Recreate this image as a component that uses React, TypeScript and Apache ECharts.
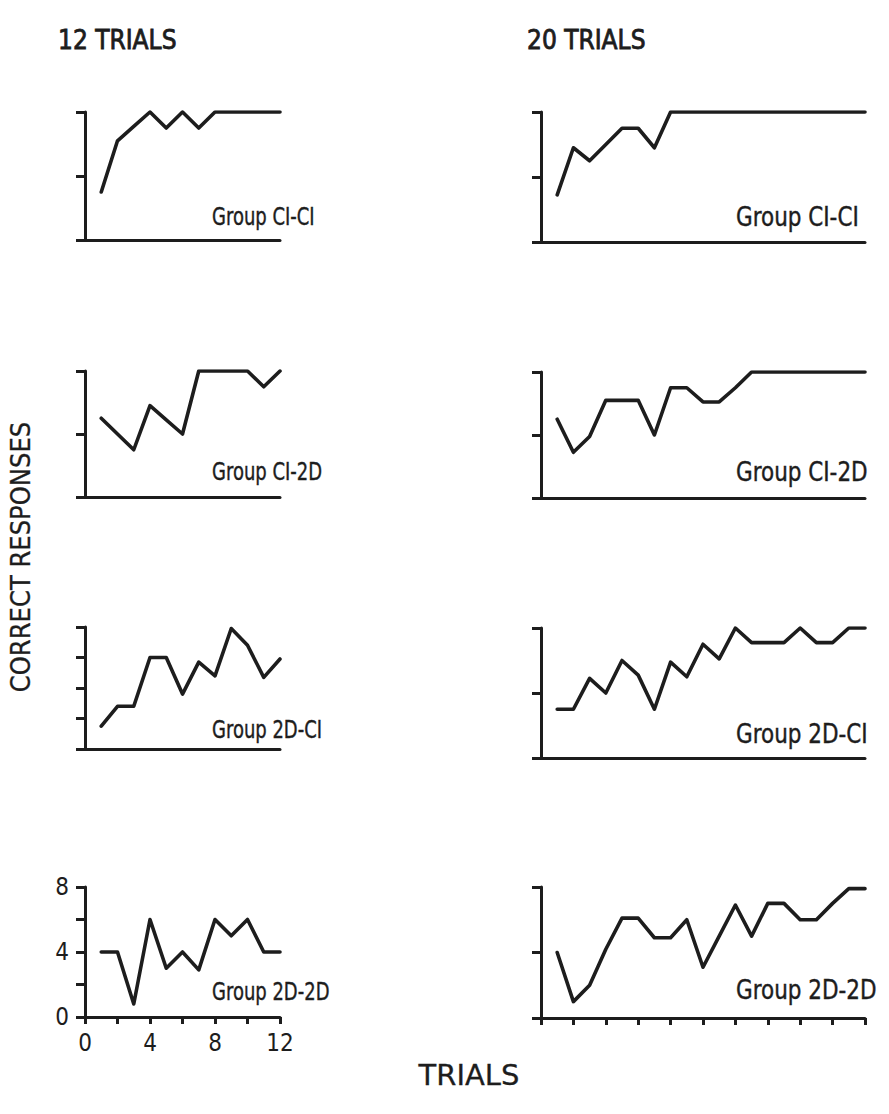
import React, { useEffect, useRef } from "react";
import * as echarts from "echarts";

// ---- data (correct responses per trial) ----
const trials12 = [1, 2, 3, 4, 5, 6, 7, 8, 9, 10, 11, 12];
const trials20 = [1, 2, 3, 4, 5, 6, 7, 8, 9, 10, 11, 12, 13, 14, 15, 16, 17, 18, 19, 20];

const ciCi12 = [3, 6.2, 7.1, 8, 7, 8, 7, 8, 8, 8, 8, 8];
const ciCi20 = [2.9, 5.8, 5, 6, 7, 7, 5.8, 8, 8, 8, 8, 8, 8, 8, 8, 8, 8, 8, 8, 8];
const ci2d12 = [5, 4, 3, 5.8, 4.9, 4, 8, 8, 8, 8, 7, 8];
const ci2d20 = [5, 2.9, 3.9, 6.2, 6.2, 6.2, 4, 7, 7, 6.1, 6.1, 7, 8, 8, 8, 8, 8, 8, 8, 8];
const d2ci12 = [1.5, 2.8, 2.8, 6, 6, 3.6, 5.7, 4.8, 7.9, 6.8, 4.7, 5.9];
const d2ci20 = [3, 3, 4.9, 4, 6, 5.1, 3, 5.9, 5, 7, 6.1, 8, 7.1, 7.1, 7.1, 8, 7.1, 7.1, 8, 8];
const d2d12 = [4, 4, 0.8, 6, 3, 4, 2.9, 6, 5, 6, 4, 4];
const d2d20 = [4, 1, 2, 4.2, 6.1, 6.1, 4.9, 4.9, 6, 3.1, 5, 6.9, 5, 7, 7, 6, 6, 7, 7.9, 7.9];

const groupLabels = ["Group CI-CI", "Group CI-2D", "Group 2D-CI", "Group 2D-2D"];
const columnTitles = ["12 TRIALS", "20 TRIALS"];
const yAxisTitle = "CORRECT RESPONSES";
const xAxisTitle = "TRIALS";
const yMax = 8;
const xMax = [12, 20];

// panels: [row][col]
const panelData = [
  [ciCi12, ciCi20],
  [ci2d12, ci2d20],
  [d2ci12, d2ci20],
  [d2d12, d2d20],
];
const yIntervals = [
  [4, 4],
  [4, 4],
  [2, 4],
  [2, 4],
];

// ---- layout (pixels) ----
const colLeft = [85, 541];
const colWidth = [195, 324];
const rowBoxes = [
  [[112, 128], [112, 130]],
  [[371, 126], [372, 126]],
  [[627, 122], [628, 130]],
  [[887, 130], [887, 131]],
];
const labelX = [212, 736];
const labelY = [
  [216, 217],
  [471, 472],
  [729, 734],
  [991, 990],
];

const INK = "#1d1d1d";
const COND = "'DejaVu Sans Condensed', 'Liberation Sans Narrow', sans-serif";

export default function App() {
  const ref = useRef<HTMLDivElement>(null);

  useEffect(() => {
    if (!ref.current) return;
    const chart = echarts.init(ref.current, undefined, { renderer: "svg" });

    const grids: any[] = [];
    const xAxes: any[] = [];
    const yAxes: any[] = [];
    const series: any[] = [];
    const graphics: any[] = [];

    let idx = 0;
    for (let r = 0; r < 4; r++) {
      for (let c = 0; c < 2; c++) {
        const [top, height] = rowBoxes[r][c];
        grids.push({ left: colLeft[c], top, width: colWidth[c], height, containLabel: false });
        const bottomRow = r === 3;
        const labelled = bottomRow && c === 0;
        xAxes.push({
          type: "value",
          gridIndex: idx,
          min: 0,
          max: xMax[c],
          interval: 2,
          axisLine: { show: true, onZero: false, lineStyle: { color: INK, width: 3 } },
          axisTick: { show: bottomRow, length: 7, lineStyle: { color: INK, width: 3 } },
          axisLabel: {
            show: labelled,
            margin: 14,
            color: INK,
            fontFamily: COND,
            fontSize: 24,
            formatter: (v: number) => (v % 4 === 0 ? String(v) : ""),
          },
          splitLine: { show: false },
        });
        yAxes.push({
          type: "value",
          gridIndex: idx,
          min: 0,
          max: yMax,
          interval: yIntervals[r][c],
          axisLine: { show: true, onZero: false, lineStyle: { color: INK, width: 3 } },
          axisTick: { show: true, length: 9, lineStyle: { color: INK, width: 3 } },
          axisLabel: {
            show: labelled,
            margin: 16,
            color: INK,
            fontFamily: COND,
            fontSize: 24,
            formatter: (v: number) => (v % 4 === 0 ? String(v) : ""),
          },
          splitLine: { show: false },
        });
        const trials = c === 0 ? trials12 : trials20;
        const vals = panelData[r][c];
        series.push({
          type: "line",
          xAxisIndex: idx,
          yAxisIndex: idx,
          data: trials.map((t, i) => [t, vals[i]]),
          showSymbol: false,
          symbol: "none",
          lineStyle: { color: INK, width: 3.6, join: "round", cap: "round" },
          silent: true,
        });
        graphics.push({
          type: "text",
          x: labelX[c],
          y: labelY[r][c],
          scaleX: c === 0 ? 0.8 : 0.92,
          style: {
            text: groupLabels[r],
            fill: INK,
            stroke: INK,
            lineWidth: 0.4,
            font: `${c === 0 ? 25 : 26}px ${COND}`,
            textAlign: "left",
            textVerticalAlign: "middle",
          },
        });
        idx++;
      }
    }

    const titleStyle = (text: string, size: number, family: string, align: string) => ({
      text,
      fill: INK,
      stroke: INK,
      lineWidth: 0.8,
      font: `${size}px ${family}`,
      textAlign: align,
      textVerticalAlign: "middle",
    });

    graphics.push(
      { type: "text", x: 58, y: 40, style: titleStyle(columnTitles[0], 26, COND, "left") },
      { type: "text", x: 527, y: 40, style: titleStyle(columnTitles[1], 26, COND, "left") },
      {
        type: "text",
        x: 20,
        y: 557,
        rotation: Math.PI / 2,
        style: { ...titleStyle(yAxisTitle, 27, COND, "center"), lineWidth: 0.3 },
      },
      {
        type: "text",
        x: 469,
        y: 1075,
        style: { ...titleStyle(xAxisTitle, 29, "'DejaVu Sans', sans-serif", "center"), lineWidth: 0.3 },
      }
    );

    chart.setOption({
      animation: false,
      backgroundColor: "#ffffff",
      grid: grids,
      xAxis: xAxes,
      yAxis: yAxes,
      series,
      graphic: graphics,
    });

    return () => chart.dispose();
  }, []);

  return (
    <div
      ref={ref}
      style={{ position: "absolute", left: 0, top: 0, width: 889, height: 1114 }}
    />
  );
}
